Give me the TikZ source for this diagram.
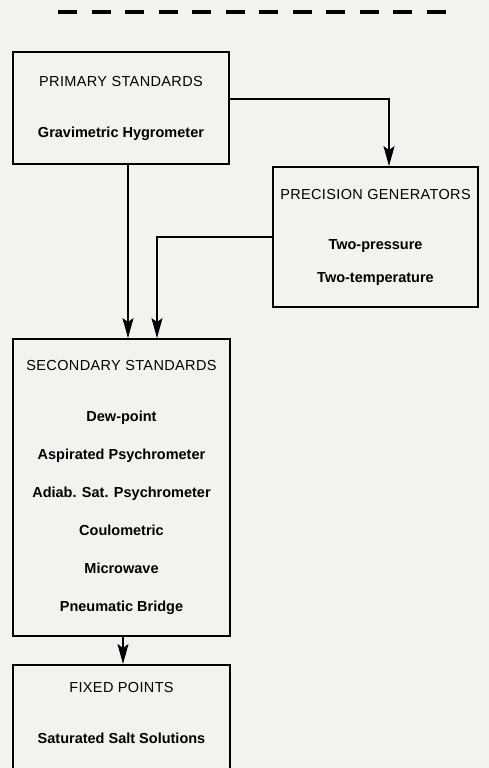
\documentclass[tikz,border=0pt]{standalone}
\usepackage{fontspec}
\setmainfont{Liberation Sans}
\usepackage{xcolor}
\usepackage{tikz}
\usetikzlibrary{arrows.meta}

\definecolor{paper}{RGB}{243,242,239}
\newcommand{\hdr}[1]{{\mdseries\addfontfeature{LetterSpace=2.5}#1}}

\begin{document}
\begin{tikzpicture}[
  x=1pt, y=-1pt,
  stdbox/.style={rectangle, draw, line width=1.8pt, align=center,
                 inner sep=0pt, font=\fontsize{14.5}{17}\selectfont\bfseries},
  flow/.style={-{Stealth[length=20pt, width=11pt, inset=4pt]}, line width=1.8pt},
  rule/.style={line width=4.5pt, dash pattern=on 19pt off 14.5pt},
]
  \useasboundingbox (0,0) rectangle (489,768);
  \fill[paper] (0,0) rectangle (489,768);
  \clip (0,0) rectangle (489,768);

  % Top rule
  \coordinate (ruleL) at (58,12);
  \coordinate (ruleR) at (447,12);
  \draw[rule] (ruleL) -- (ruleR);

  % Boxes
  \node[stdbox, minimum width=216pt, minimum height=112pt] (primary) at (121,108)
    {\hdr{PRIMARY STANDARDS}\\[34pt]Gravimetric Hygrometer};
  \node[stdbox, minimum width=205pt, minimum height=140pt] (precision) at (375.5,237)
    {\hdr{PRECISION GENERATORS}\\[33pt]Two-pressure\\[16pt]Two-temperature};
  \node[stdbox, minimum width=217pt, minimum height=297pt] (secondary) at (121.5,487.5)
    {\hdr{SECONDARY STANDARDS}\\[34pt]Dew-point\\[21pt]Aspirated Psychrometer\\[21pt]%
     Adiab. Sat. Psychrometer\\[21pt]Coulometric\\[21pt]%
     Microwave\\[21pt]Pneumatic Bridge};
  \node[stdbox, minimum width=217pt, minimum height=136pt, anchor=north] (fixed) at (121.5,664)
    {\hdr{FIXED POINTS}\\[34pt]Saturated Salt Solutions\\[22pt]\mbox{}};

  % Connectors
  \draw[flow] ([xshift=7pt]primary.south) -- ([xshift=7pt]primary.south |- secondary.north);
  \draw[flow] ([yshift=9pt]primary.east) -| ([xshift=13.5pt]precision.north);
  \draw[flow] (precision.west) -| ([xshift=35.5pt]secondary.north);
  \draw[flow] ([xshift=1.5pt]secondary.south) -- ([xshift=1.5pt]fixed.north);
\end{tikzpicture}
\end{document}
